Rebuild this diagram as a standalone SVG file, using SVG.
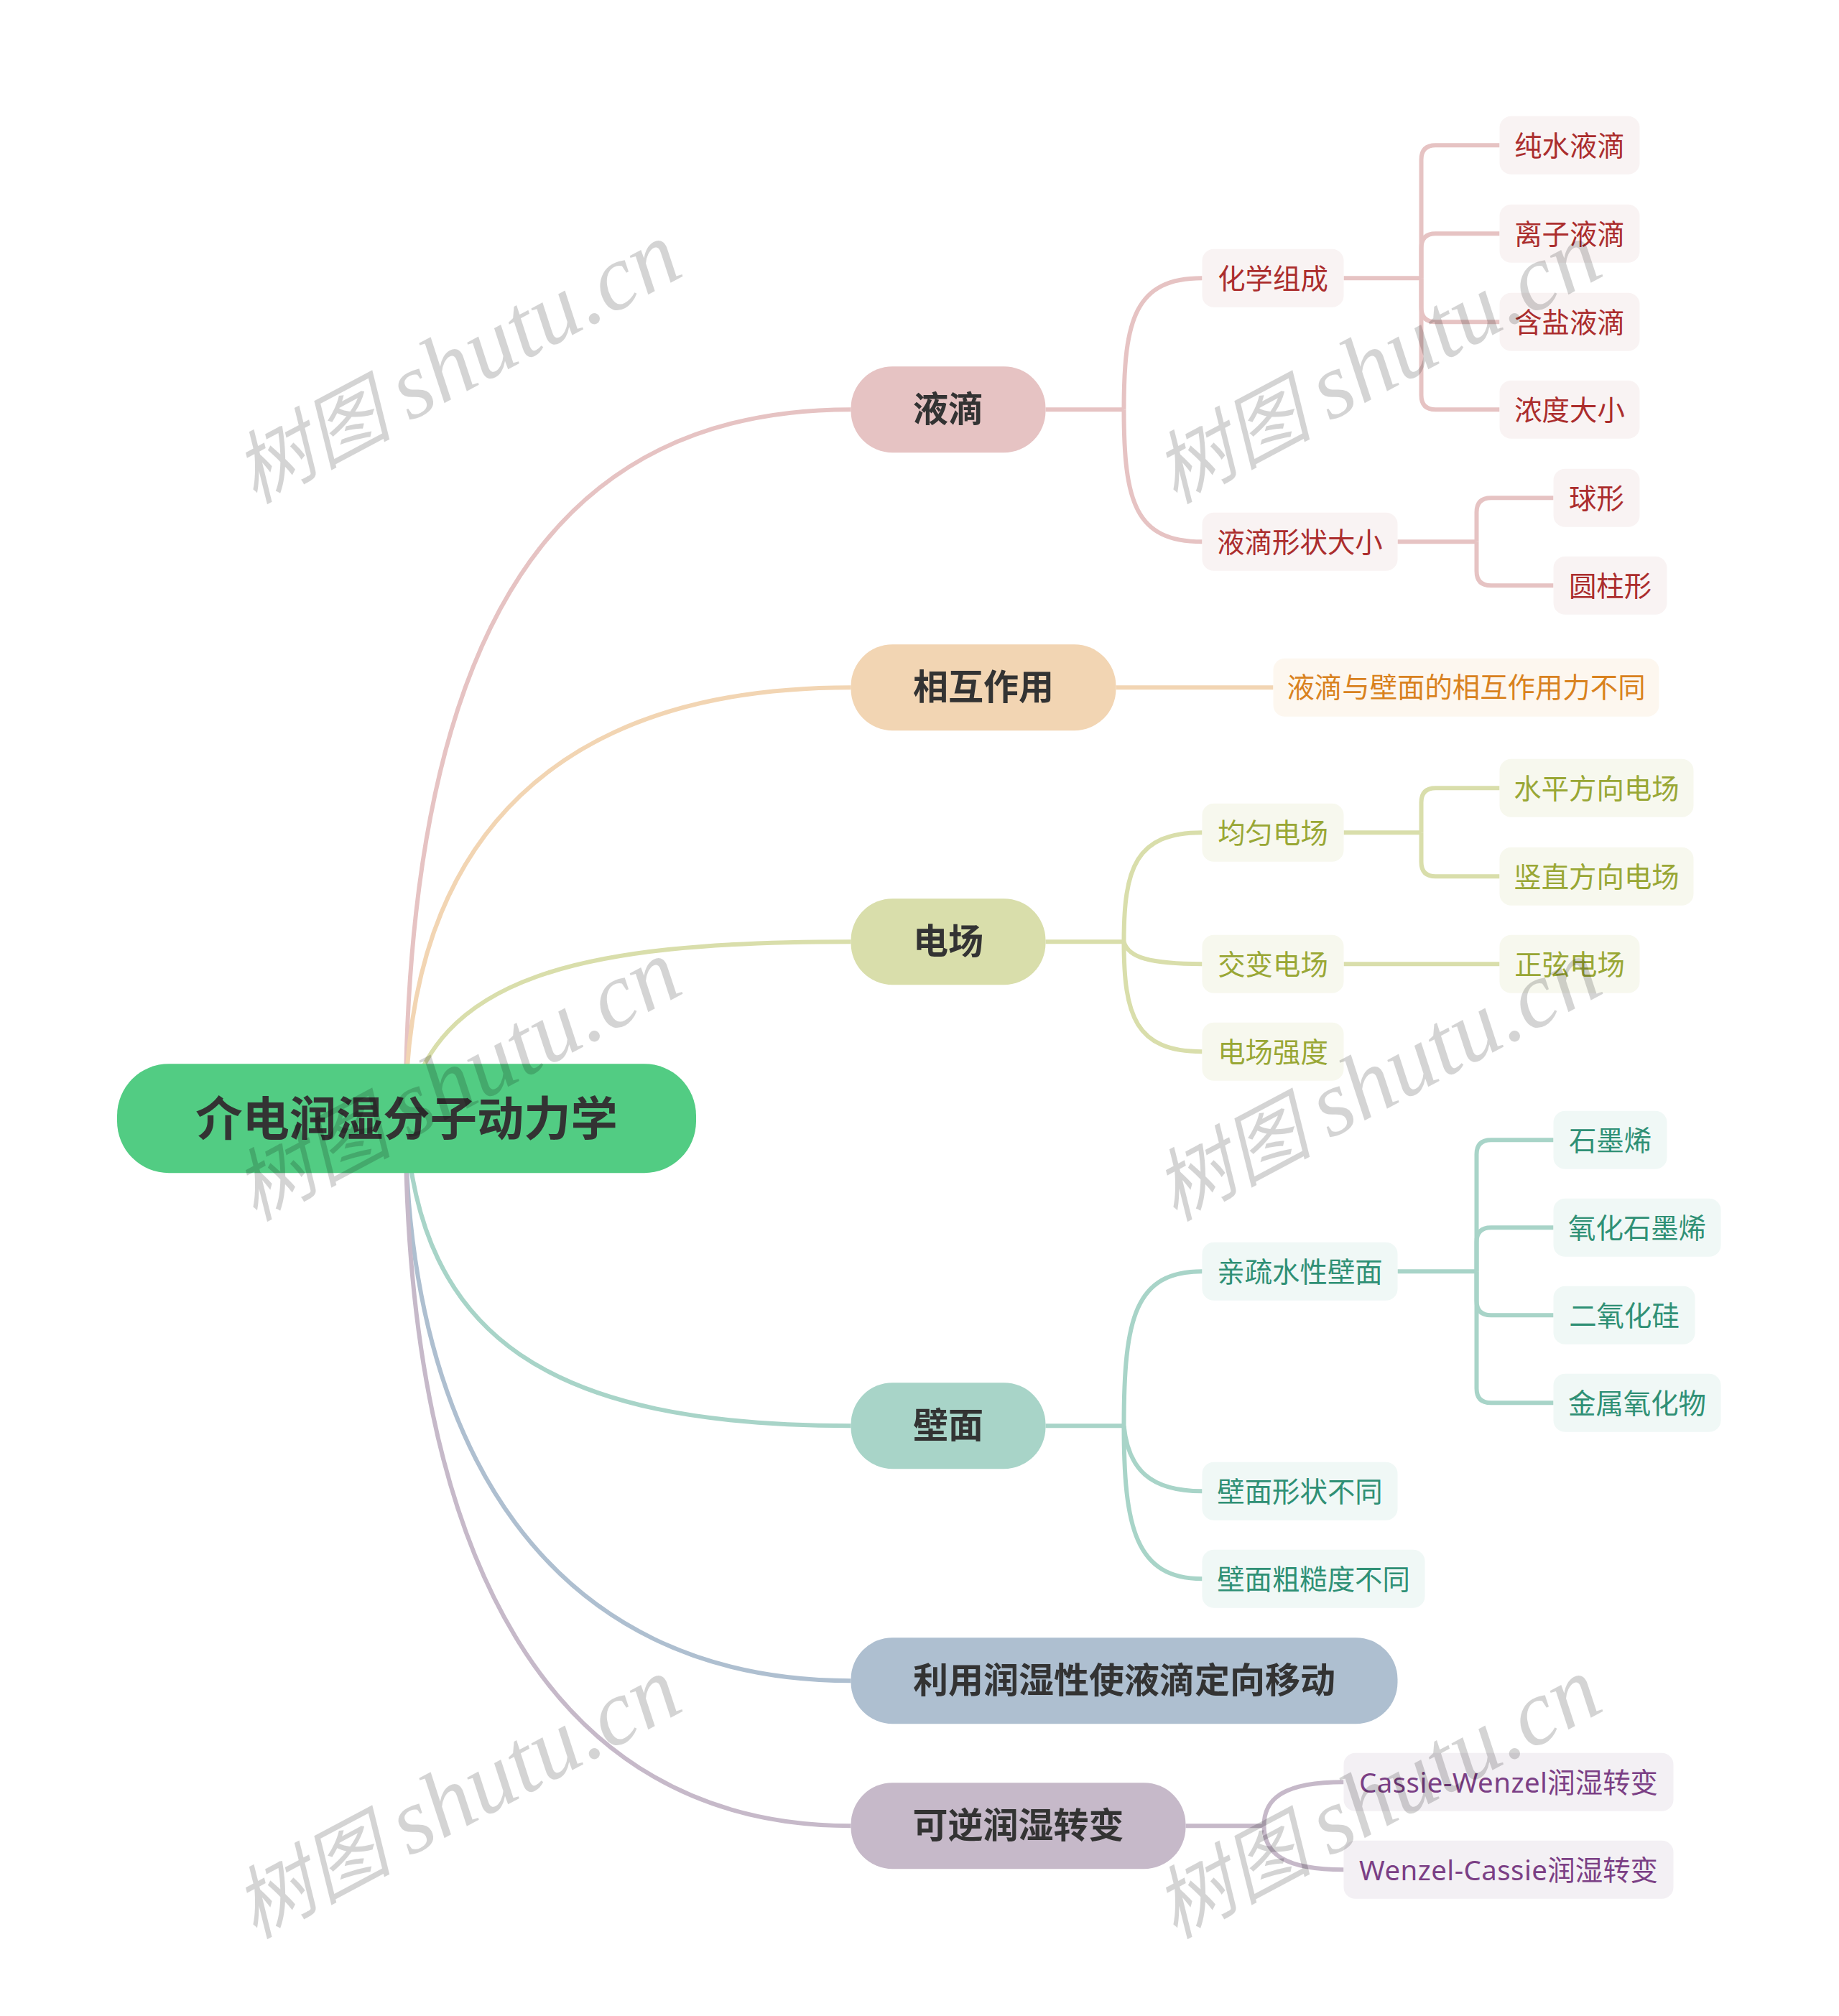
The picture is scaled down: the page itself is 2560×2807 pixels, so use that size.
<svg xmlns="http://www.w3.org/2000/svg" width="2560" height="2807" viewBox="0 0 2560 2807">
<style>
text{font-family:"Noto Sans","Noto Sans CJK SC","Liberation Sans",sans-serif;text-anchor:middle;dominant-baseline:central}
.l1 text{font-size:49px;font-weight:700;fill:#333}
.root text{font-size:65.300px;font-weight:700;fill:#333}
.s text{font-size:38.400px}
.s tspan{letter-spacing:.45px}
.c path{fill:none;stroke-width:6}
.a rect{fill:#f9f3f3}.a text{fill:#ab2d2d}
.b rect{fill:#fdf7ef}.b text{fill:#d9821e}
.d rect{fill:#f7f8ee}.d text{fill:#99a735}
.e rect{fill:#f0f8f6}.e text{fill:#2f9075}
.f rect{fill:#f3f0f4}.f text{fill:#7b3f85}
.wm text{font-family:"Liberation Serif","Noto Sans CJK SC",serif;font-style:italic;font-size:130px;fill:#000;fill-opacity:.17;text-anchor:start;dominant-baseline:auto}
.wm .z{font-size:110px}
</style>
<rect width="2560" height="2807" fill="#fff"/>
<g transform="translate(-1.500 -0.800)">
<g id="connectors" class="c">
<g stroke="#e6c3c3" id="c-ye">
<path d="M566 1558C566 857 786 571 1186 571"/>
<path d="M1457 571H1566"/>
<path d="M1566 571C1566 445 1582 388 1675 388"/>
<path d="M1566 571C1566 700 1582 755 1675 755"/>
<path d="M1872 388H1980"/>
<path d="M1980 388V223Q1980 203 2000 203H2089"/>
<path d="M1980 388V346Q1980 326 2000 326H2089"/>
<path d="M1980 388V429Q1980 449 2000 449H2089"/>
<path d="M1980 388V551Q1980 571 2000 571H2089"/>
<path d="M1947 755H2057"/>
<path d="M2057 755V714Q2057 694 2077 694H2164"/>
<path d="M2057 755V796Q2057 816 2077 816H2164"/>
</g>
<g stroke="#f2d5b3" id="c-xh">
<path d="M566 1558C566 1159 786 958 1186 958"/>
<path d="M1555 958H1774"/>
</g>
<g stroke="#d9deab" id="c-dc">
<path d="M566 1558C605 1360 806 1312 1186 1312"/>
<path d="M1457 1312H1566"/>
<path d="M1566 1312C1566 1210 1582 1160 1675 1160"/>
<path d="M1566 1312C1572 1334 1602 1343 1675 1343"/>
<path d="M1566 1312C1566 1415 1582 1465 1675 1465"/>
<path d="M1872 1160H1980"/>
<path d="M1980 1160V1118Q1980 1098 2000 1098H2089"/>
<path d="M1980 1160V1201Q1980 1221 2000 1221H2089"/>
<path d="M1872 1343H2089"/>
</g>
<g stroke="#a8d4c8" id="c-bm">
<path d="M566 1558C584 1864 766 1986 1186 1986"/>
<path d="M1457 1986H1566"/>
<path d="M1566 1986C1566 1835 1582 1771 1675 1771"/>
<path d="M1566 1986C1572 2046 1602 2077 1675 2077"/>
<path d="M1566 1986C1566 2127 1582 2199 1675 2199"/>
<path d="M1947 1771H2057"/>
<path d="M2057 1771V1608Q2057 1588 2077 1588H2164"/>
<path d="M2057 1771V1730Q2057 1710 2077 1710H2164"/>
<path d="M2057 1771V1812Q2057 1832 2077 1832H2164"/>
<path d="M2057 1771V1934Q2057 1954 2077 1954H2164"/>
</g>
<g stroke="#aebfd0" id="c-ly">
<path d="M566 1558C566 2015 766 2341 1186 2341"/>
</g>
<g stroke="#c6b9c9" id="c-kn">
<path d="M566 1558C566 2167 766 2543 1186 2543"/>
<path d="M1652 2543H1761"/>
<path d="M1761 2543C1761 2504 1790 2482 1872 2482"/>
<path d="M1761 2543C1761 2582 1790 2604 1872 2604"/>
</g>
</g>
<g id="root" class="root"><rect x="164.500" y="1482" width="806" height="152" rx="72" fill="#52cc83"/><text x="567.500" y="1556">介电润湿分子动力学</text></g>
<g id="n-ye" class="l1"><rect x="1186" y="511" width="271" height="120" rx="58" fill="#e6c3c3"/><text x="1321.500" y="569">液滴</text></g>
<g id="n-xh" class="l1"><rect x="1186" y="898" width="369" height="120" rx="58" fill="#f2d5b3"/><text x="1370.500" y="956">相互作用</text></g>
<g id="n-dc" class="l1"><rect x="1186" y="1252" width="271" height="120" rx="58" fill="#d9deab"/><text x="1321.500" y="1310">电场</text></g>
<g id="n-bm" class="l1"><rect x="1186" y="1926" width="271" height="120" rx="58" fill="#a8d4c8"/><text x="1321.500" y="1984">壁面</text></g>
<g id="n-ly" class="l1"><rect x="1186" y="2281" width="761" height="120" rx="58" fill="#aebfd0"/><text x="1566.500" y="2339">利用润湿性使液滴定向移动</text></g>
<g id="n-kn" class="l1"><rect x="1186" y="2483" width="466" height="120" rx="58" fill="#c6b9c9"/><text x="1419" y="2541">可逆润湿转变</text></g>
<g class="s a">
<g id="a1"><rect x="1675" y="347.500" width="197" height="81" rx="16"/><text x="1773.500" y="388">化学组成</text></g>
<g id="a2"><rect x="1675" y="714.500" width="272" height="81" rx="16"/><text x="1811" y="755">液滴形状大小</text></g>
<g id="a3"><rect x="2089" y="162.500" width="195" height="81" rx="16"/><text x="2186.500" y="203">纯水液滴</text></g>
<g id="a4"><rect x="2089" y="285.500" width="195" height="81" rx="16"/><text x="2186.500" y="326">离子液滴</text></g>
<g id="a5"><rect x="2089" y="408.500" width="195" height="81" rx="16"/><text x="2186.500" y="449">含盐液滴</text></g>
<g id="a6"><rect x="2089" y="530.500" width="195" height="81" rx="16"/><text x="2186.500" y="571">浓度大小</text></g>
<g id="a7"><rect x="2164" y="653.500" width="120" height="81" rx="16"/><text x="2224" y="694">球形</text></g>
<g id="a8"><rect x="2164" y="775.500" width="158" height="81" rx="16"/><text x="2243" y="816">圆柱形</text></g>
</g>
<g class="s b"><g id="b1"><rect x="1774" y="917.500" width="537" height="81" rx="16"/><text x="2042.500" y="957">液滴与壁面的相互作用力不同</text></g></g>
<g class="s d">
<g id="d1"><rect x="1675" y="1119.500" width="197" height="81" rx="16"/><text x="1773.500" y="1160">均匀电场</text></g>
<g id="d2"><rect x="1675" y="1302.500" width="197" height="81" rx="16"/><text x="1773.500" y="1343">交变电场</text></g>
<g id="d3"><rect x="1675" y="1424.500" width="197" height="81" rx="16"/><text x="1773.500" y="1465">电场强度</text></g>
<g id="d4"><rect x="2089" y="1057.500" width="270" height="81" rx="16"/><text x="2224" y="1098">水平方向电场</text></g>
<g id="d5"><rect x="2089" y="1180.500" width="270" height="81" rx="16"/><text x="2224" y="1221">竖直方向电场</text></g>
<g id="d6"><rect x="2089" y="1302.500" width="195" height="81" rx="16"/><text x="2186.500" y="1343">正弦电场</text></g>
</g>
<g class="s e">
<g id="e1"><rect x="1675" y="1730.500" width="272" height="81" rx="16"/><text x="1811" y="1771">亲疏水性壁面</text></g>
<g id="e2"><rect x="1675" y="2036.500" width="272" height="81" rx="16"/><text x="1811" y="2077">壁面形状不同</text></g>
<g id="e3"><rect x="1675" y="2158.500" width="310" height="81" rx="16"/><text x="1830" y="2199">壁面粗糙度不同</text></g>
<g id="e4"><rect x="2164" y="1547.500" width="158" height="81" rx="16"/><text x="2243" y="1588">石墨烯</text></g>
<g id="e5"><rect x="2164" y="1669.500" width="233" height="81" rx="16"/><text x="2280.500" y="1710">氧化石墨烯</text></g>
<g id="e6"><rect x="2164" y="1791.500" width="197" height="81" rx="16"/><text x="2262.500" y="1832">二氧化硅</text></g>
<g id="e7"><rect x="2164" y="1913.500" width="233" height="81" rx="16"/><text x="2280.500" y="1954">金属氧化物</text></g>
</g>
<g class="s f">
<g id="f1"><rect x="1872" y="2441.500" width="459" height="81" rx="16"/><text x="2101.500" y="2482"><tspan>Cassie-Wenzel</tspan>润湿转变</text></g>
<g id="f2"><rect x="1872" y="2563.500" width="459" height="81" rx="16"/><text x="2101.500" y="2604"><tspan>Wenzel-Cassie</tspan>润湿转变</text></g>
</g>
</g>
<g class="wm">
<text transform="translate(354 702) rotate(-28)"><tspan class="z">树图</tspan><tspan dx="-8"> shutu.cn</tspan></text>
<text transform="translate(1635 702) rotate(-28)"><tspan class="z">树图</tspan><tspan dx="-8"> shutu.cn</tspan></text>
<text transform="translate(354 1701) rotate(-28)"><tspan class="z">树图</tspan><tspan dx="-8"> shutu.cn</tspan></text>
<text transform="translate(1635 1701) rotate(-28)"><tspan class="z">树图</tspan><tspan dx="-8"> shutu.cn</tspan></text>
<text transform="translate(354 2700) rotate(-28)"><tspan class="z">树图</tspan><tspan dx="-8"> shutu.cn</tspan></text>
<text transform="translate(1635 2700) rotate(-28)"><tspan class="z">树图</tspan><tspan dx="-8"> shutu.cn</tspan></text>
</g>
</svg>
